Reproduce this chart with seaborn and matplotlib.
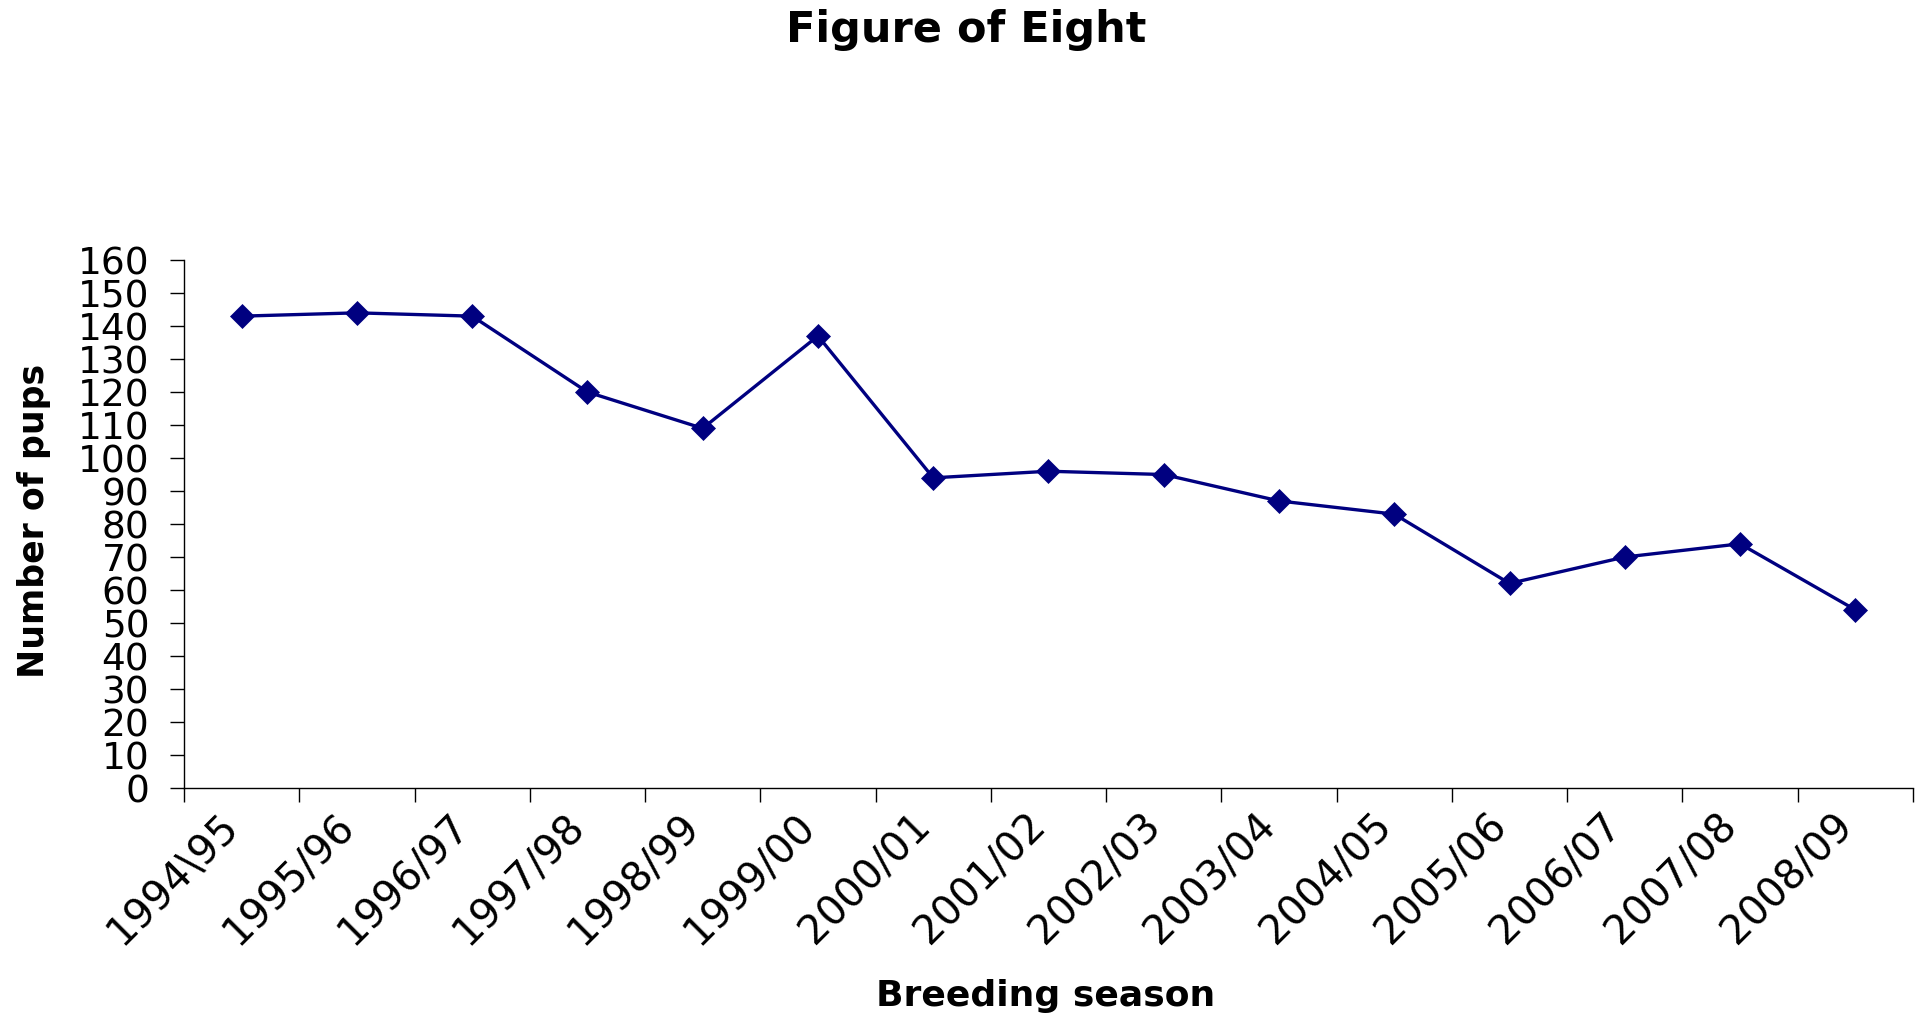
import numpy as np
import pandas as pd
import seaborn as sns
import matplotlib
matplotlib.use("Agg")
from matplotlib import pyplot as plt
from matplotlib.transforms import ScaledTranslation

# breeding seasons (first label really uses a backslash in the original)
seasons = ['1994\\95', '1995/96', '1996/97', '1997/98', '1998/99', '1999/00',
           '2000/01', '2001/02', '2002/03', '2003/04', '2004/05', '2005/06',
           '2006/07', '2007/08', '2008/09']
pups = [143, 144, 143, 120, 109, 137, 94, 96, 95, 87, 83, 62, 70, 74, 54]
y_ticks = list(range(0, 161, 10))

sns.set_theme(style='white')
plt.rcParams['font.family'] = ['DejaVu Sans']

fig = plt.figure(figsize=(19.21, 10.21), dpi=100)
ax = fig.add_axes([0.0958, 0.2282, 0.9, 0.5171])

df = pd.DataFrame({'season': seasons, 'pups': pups})
sns.lineplot(data=df, x='season', y='pups', ax=ax, sort=False,
             color='#000080', linewidth=2.4, marker='D', markersize=12,
             markeredgecolor='#000080', markeredgewidth=0.5)

# axis look (Excel style)
ax.set_ylim(0, 160)
ax.set_yticks(y_ticks)
ax.set_xlim(-0.5, len(seasons) - 0.5)
ax.set_xticks(np.arange(len(seasons) + 1) - 0.5)
ax.set_xticklabels([''] * (len(seasons) + 1))
ax.set_xticks(np.arange(len(seasons)), labels=seasons, minor=True)

for side in ['top', 'right']:
    ax.spines[side].set_visible(False)
for side in ['left', 'bottom']:
    ax.spines[side].set_color('black')
    ax.spines[side].set_linewidth(1)

ax.tick_params(axis='y', left=True, length=10, width=1, color='black',
               labelsize=27, pad=15, labelcolor='black')
ax.tick_params(axis='x', which='major', bottom=True, length=10, width=1, color='black')
ax.tick_params(axis='x', which='minor', bottom=True, length=0, pad=13,
               labelsize=29, labelcolor='black')

shift = ScaledTranslation(-0.23, 0, fig.dpi_scale_trans)
for lab in ax.get_xticklabels(minor=True):
    lab.set_rotation(45)
    lab.set_ha('right')
    lab.set_va('top')
    lab.set_rotation_mode('anchor')
    lab.set_transform(lab.get_transform() + shift)

ax.set_ylabel('Number of pups', fontsize=25, fontweight='bold', color='black')
ax.yaxis.set_label_coords(-0.077, 0.506)
ax.set_xlabel('Breeding season', fontsize=26, fontweight='bold', color='black')
ax.xaxis.set_label_coords(0.4986, -0.362)
ax.xaxis.label.set_va('top')

fig.suptitle('Figure of Eight', x=0.503, y=1 - 42 / 1021, va='baseline',
             fontsize=31, fontweight='bold', color='black')

fig.savefig('out.png', dpi=100, facecolor='white')
